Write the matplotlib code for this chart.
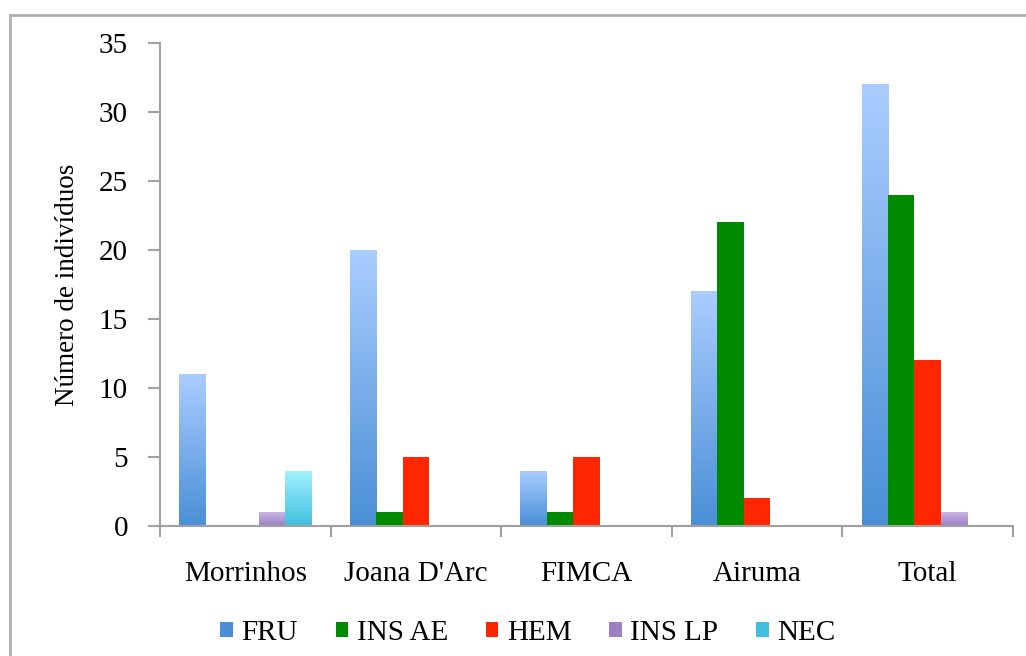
import numpy as np
import matplotlib
matplotlib.use("Agg")
import matplotlib.pyplot as plt
from matplotlib.colors import LinearSegmentedColormap
from matplotlib.patches import Rectangle
from matplotlib.lines import Line2D

plt.rcParams['font.family'] = 'serif'
plt.rcParams['font.serif'] = ['Liberation Serif', 'Times New Roman', 'DejaVu Serif']

# individuals per site and feeding group
sites = ["Morrinhos", "Joana D'Arc", "FIMCA", "Airuma", "Total"]
fru = [11, 20, 4, 17, 32]
ins_ae = [0, 1, 1, 22, 24]
hem = [0, 5, 5, 2, 12]
ins_lp = [1, 0, 0, 0, 1]
nec = [4, 0, 0, 0, 0]
series_names = ["FRU", "INS AE", "HEM", "INS LP", "NEC"]

# (top colour, bottom colour) - solid ones use same colour twice
fills = {
    "FRU": ("#aacdff", "#4a8fd6"),
    "INS AE": ("#008a00", "#008a00"),
    "HEM": ("#ff2600", "#ff2600"),
    "INS LP": ("#c9b6e6", "#9b80c2"),
    "NEC": ("#a4f2ff", "#3fc0de"),
}

fig = plt.figure(figsize=(10.26, 6.56), dpi=100)
ax = fig.add_axes([160/1026, 1-526/656, (1013-160)/1026, (526-43)/656])

all_vals = [fru, ins_ae, hem, ins_lp, nec]
bw = 0.155
start = 0.1125
x = np.arange(len(sites))
grad = np.linspace(1, 0, 256).reshape(-1, 1)

for i, (name, vals) in enumerate(zip(series_names, all_vals)):
    top, bot = fills[name]
    cmap = LinearSegmentedColormap.from_list(name, [bot, top])
    bars = ax.bar(x + start + i*bw, vals, width=bw, align='edge',
                  color=top, edgecolor='none', label=name)
    if top != bot:
        for b in bars:
            h = b.get_height()
            if h <= 0:
                continue
            b.set_facecolor('none')
            x0 = b.get_x()
            im = ax.imshow(grad, cmap=cmap, aspect='auto', vmin=0, vmax=1,
                           extent=(x0, x0 + bw, 0, h), zorder=b.get_zorder())
            im.set_clip_path(b)

ax.set_xlim(0, 5)
ax.set_ylim(0, 35)
ax.set_yticks(range(0, 36, 5))
ax.set_xticks(np.arange(0, 6), minor=False)
ax.set_xticklabels([])
ax.set_xticks(x + 0.5, minor=True)
ax.set_xticklabels(sites, minor=True, fontsize=21)
ax.tick_params(axis='x', which='minor', length=0, pad=25)
ax.tick_params(axis='x', which='major', length=8, color='#a0a0a0', width=1.5)
ax.tick_params(axis='y', length=9, color='#a0a0a0', width=1.5, labelsize=21, pad=14)

for s in ['top', 'right']:
    ax.spines[s].set_visible(False)
for s in ['left', 'bottom']:
    ax.spines[s].set_color('#a0a0a0')
    ax.spines[s].set_linewidth(1.5)

ax.set_ylabel("Número de indivíduos", fontsize=19.5)
ax.yaxis.set_label_coords(-0.094, 0.5)

handles = []
for name in series_names:
    top, bot = fills[name]
    handles.append(Rectangle((0, 0), 1, 1, facecolor=bot if top != bot else top))
fig.legend(handles, series_names, loc='center', bbox_to_anchor=(528/1026, 1-633/656),
           ncol=5, frameon=False, fontsize=21, handlelength=0.42, handleheight=0.42,
           handletextpad=0.3, columnspacing=1.3)

# outer chart frame
fig.add_artist(Line2D([10/1026, 10/1026], [0, 1-15/656], color='#b0b0b0', lw=2))
fig.add_artist(Line2D([10/1026, 1], [1-15/656, 1-15/656], color='#b0b0b0', lw=2))

fig.savefig("out.png", dpi=100)
